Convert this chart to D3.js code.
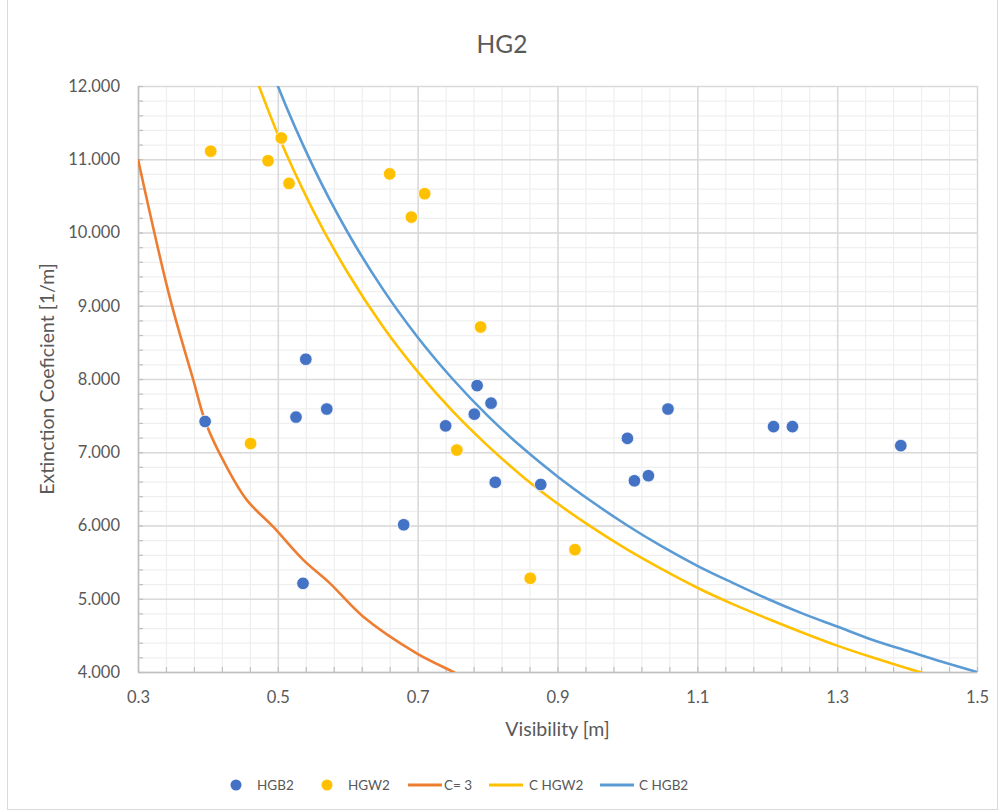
<!DOCTYPE html>
<html>
<head>
<meta charset="utf-8">
<script src="https://cdn.jsdelivr.net/npm/d3@7"></script>
<style>
  html, body { margin: 0; padding: 0; background: #ffffff; }
  svg text { font-family: Lato, "Open Sans", sans-serif; fill: #595959; }
</style>
</head>
<body>
<svg id="chart" width="1003" height="812"></svg>
<script>
// ---------- DATA ----------
const title = "HG2";
const xTitle = "Visibility [m]";
const yTitle = "Extinction Coeficient [1/m]";

const xTickValues = [0.3, 0.5, 0.7, 0.9, 1.1, 1.3, 1.5];
const yTickValues = [4, 5, 6, 7, 8, 9, 10, 11, 12];

// HGB2 observations
const hgb2X = [0.396, 0.540, 0.526, 0.570, 0.536, 0.680, 0.740, 0.785, 0.805, 0.781, 0.811, 0.876, 1.058, 1.000, 1.010, 1.030, 1.209, 1.236, 1.391];
const hgb2Y = [7.42, 8.27, 7.48, 7.59, 5.21, 6.01, 7.36, 7.91, 7.67, 7.52, 6.59, 6.56, 7.59, 7.19, 6.61, 6.68, 7.35, 7.35, 7.09];

// HGW2 observations
const hgw2X = [0.404, 0.505, 0.486, 0.516, 0.660, 0.710, 0.691, 0.790, 0.461, 0.756, 0.861, 0.925];
const hgw2Y = [11.11, 11.29, 10.98, 10.67, 10.80, 10.53, 10.21, 8.71, 7.12, 7.03, 5.28, 5.67];

// C= 3 curve
const c3X = [0.300, 0.3458, 0.3787, 0.3970, 0.4268, 0.4555, 0.4936, 0.5364, 0.5746, 0.6222, 0.6986, 0.751, 0.760];
const c3Y = [11.00, 9.10, 8.00, 7.40, 6.80, 6.35, 5.98, 5.53, 5.21, 4.755, 4.255, 4.00, 3.95];

// C HGW2 curve
const cHgwX = [0.46, 0.50, 0.55, 0.60, 0.65, 0.70, 0.75, 0.80, 0.85, 0.90, 0.95, 1.00, 1.05, 1.10, 1.15, 1.20, 1.25, 1.30, 1.35, 1.40, 1.45];
const cHgwY = [12.33, 11.34, 10.31, 9.45, 8.72, 8.10, 7.56, 7.09, 6.67, 6.30, 5.97, 5.67, 5.40, 5.15, 4.93, 4.73, 4.54, 4.36, 4.20, 4.05, 3.91];

// C HGB2 curve
const cHgbX = [0.48, 0.50, 0.55, 0.60, 0.65, 0.70, 0.75, 0.80, 0.85, 0.90, 0.95, 1.00, 1.05, 1.10, 1.15, 1.20, 1.25, 1.30, 1.35, 1.40, 1.45, 1.50];
const cHgbY = [12.50, 12.00, 10.91, 10.00, 9.23, 8.57, 8.00, 7.50, 7.06, 6.67, 6.32, 6.00, 5.71, 5.45, 5.22, 5.00, 4.80, 4.62, 4.44, 4.29, 4.14, 4.00];

const legendLabels = ["HGB2", "HGW2", "C= 3", "C HGW2", "C HGB2"];

// ---------- CHART ----------
const colors = { hgb2: "#4472C4", hgw2: "#FFC000", c3: "#ED7D31", cHgw: "#FFC000", cHgb: "#5B9BD5" };
const svg = d3.select("#chart");
const W = 1003, H = 812;
const plot = { left: 138, right: 977, top: 86, bottom: 672 };

svg.append("rect").attr("x", 0).attr("y", 0).attr("width", W).attr("height", H).attr("fill", "#fff");
// chart frame
svg.append("rect").attr("x", 7.5).attr("y", -2).attr("width", 990).attr("height", 811.5)
  .attr("fill", "none").attr("stroke", "#d9d9d9").attr("stroke-width", 1);

const x = d3.scaleLinear().domain([0.3, 1.5]).range([plot.left, plot.right]);
const y = d3.scaleLinear().domain([4, 12]).range([plot.bottom, plot.top]);

const xMinor = d3.range(0, 31).map(i => 0.3 + i * 0.04);
const yMinor = d3.range(0, 41).map(i => 4 + i * 0.2);

// minor gridlines
svg.append("g").attr("transform", `translate(0,${plot.bottom})`)
  .call(d3.axisBottom(x).tickValues(xMinor).tickSize(-(plot.bottom - plot.top)).tickFormat(""))
  .call(g => g.select(".domain").remove())
  .call(g => g.selectAll("line").attr("stroke", "#efefef").attr("stroke-width", 1.2));
svg.append("g").attr("transform", `translate(${plot.left},0)`)
  .call(d3.axisLeft(y).tickValues(yMinor).tickSize(-(plot.right - plot.left)).tickFormat(""))
  .call(g => g.select(".domain").remove())
  .call(g => g.selectAll("line").attr("stroke", "#efefef").attr("stroke-width", 1.2));

// major gridlines
svg.append("g").attr("transform", `translate(0,${plot.bottom})`)
  .call(d3.axisBottom(x).tickValues(xTickValues).tickSize(-(plot.bottom - plot.top)).tickFormat(""))
  .call(g => g.select(".domain").remove())
  .call(g => g.selectAll("line").attr("stroke", "#d9d9d9").attr("stroke-width", 1.5));
svg.append("g").attr("transform", `translate(${plot.left},0)`)
  .call(d3.axisLeft(y).tickValues(yTickValues).tickSize(-(plot.right - plot.left)).tickFormat(""))
  .call(g => g.select(".domain").remove())
  .call(g => g.selectAll("line").attr("stroke", "#d9d9d9").attr("stroke-width", 1.5));

// minor tick marks (inside)
svg.append("g").attr("transform", `translate(0,${plot.bottom})`)
  .call(d3.axisBottom(x).tickValues(xMinor).tickSize(-5).tickFormat(""))
  .call(g => g.select(".domain").remove())
  .call(g => g.selectAll("line").attr("stroke", "#bfbfbf").attr("stroke-width", 1.2));
svg.append("g").attr("transform", `translate(${plot.left},0)`)
  .call(d3.axisLeft(y).tickValues(yMinor).tickSize(-5).tickFormat(""))
  .call(g => g.select(".domain").remove())
  .call(g => g.selectAll("line").attr("stroke", "#bfbfbf").attr("stroke-width", 1.2));

// axes with labels
svg.append("g").attr("transform", `translate(0,${plot.bottom})`)
  .call(d3.axisBottom(x).tickValues(xTickValues).tickSize(0).tickPadding(18).tickFormat(d3.format(".1f")))
  .call(g => g.select(".domain").attr("stroke", "#bfbfbf").attr("stroke-width", 1.5))
  .call(g => g.selectAll("text").attr("font-size", "16.5px").attr("fill", "#595959").attr("dy", "0.35em").attr("y", 25));
svg.append("g").attr("transform", `translate(${plot.left},0)`)
  .call(d3.axisLeft(y).tickValues(yTickValues).tickSize(0).tickPadding(18).tickFormat(d3.format(".3f")))
  .call(g => g.select(".domain").attr("stroke", "#bfbfbf").attr("stroke-width", 1.5))
  .call(g => g.selectAll("text").attr("font-size", "16.5px").attr("fill", "#595959"));

// clip
svg.append("clipPath").attr("id", "clip").append("rect")
  .attr("x", plot.left).attr("y", plot.top).attr("width", plot.right - plot.left).attr("height", plot.bottom - plot.top);

const curves = [
  { xs: c3X, ys: c3Y, color: colors.c3, curve: d3.curveCatmullRom.alpha(0.5) },
  { xs: cHgwX, ys: cHgwY, color: colors.cHgw, curve: d3.curveMonotoneX },
  { xs: cHgbX, ys: cHgbY, color: colors.cHgb, curve: d3.curveMonotoneX }
];
const gLines = svg.append("g").attr("clip-path", "url(#clip)");
curves.forEach(c => {
  const line = d3.line().x(d => x(d[0])).y(d => y(d[1])).curve(c.curve);
  gLines.append("path").datum(c.xs.map((v, i) => [v, c.ys[i]]))
    .attr("d", line).attr("fill", "none").attr("stroke", c.color).attr("stroke-width", 2.6);
});

// points
const gPts = svg.append("g");
gPts.selectAll("circle.hgb2").data(hgb2X.map((v, i) => [v, hgb2Y[i]])).join("circle")
  .attr("class", "hgb2").attr("cx", d => x(d[0])).attr("cy", d => y(d[1])).attr("r", 6.3)
  .attr("fill", colors.hgb2).attr("stroke", "#fff").attr("stroke-width", 0.8);
gPts.selectAll("circle.hgw2").data(hgw2X.map((v, i) => [v, hgw2Y[i]])).join("circle")
  .attr("class", "hgw2").attr("cx", d => x(d[0])).attr("cy", d => y(d[1])).attr("r", 6.3)
  .attr("fill", colors.hgw2).attr("stroke", "#fff").attr("stroke-width", 0.8);

// titles
svg.append("text").attr("x", 502).attr("y", 44).attr("text-anchor", "middle").attr("dy", "0.35em")
  .attr("font-size", "24.5px").text(title);
svg.append("text").attr("x", (plot.left + plot.right) / 2).attr("y", 729).attr("text-anchor", "middle").attr("dy", "0.35em")
  .attr("font-size", "19.5px").text(xTitle);
svg.append("text").attr("transform", `translate(47,${(plot.top + plot.bottom) / 2}) rotate(-90)`)
  .attr("text-anchor", "middle").attr("dy", "0.35em").attr("font-size", "19.5px").text(yTitle);

// legend
const legendY = 785;
const legendItems = [
  { type: "dot", color: colors.hgb2, sx: 236, tx: 257 },
  { type: "dot", color: colors.hgw2, sx: 327, tx: 348 },
  { type: "line", color: colors.c3, sx: 408, tx: 444 },
  { type: "line", color: colors.cHgw, sx: 489, tx: 529 },
  { type: "line", color: colors.cHgb, sx: 600, tx: 639 }
];
const gLeg = svg.append("g");
legendItems.forEach((it, i) => {
  if (it.type === "dot") {
    gLeg.append("circle").attr("cx", it.sx).attr("cy", legendY).attr("r", 5.5).attr("fill", it.color);
  } else {
    gLeg.append("line").attr("x1", it.sx).attr("x2", it.sx + 34).attr("y1", legendY).attr("y2", legendY)
      .attr("stroke", it.color).attr("stroke-width", 3);
  }
  gLeg.append("text").attr("x", it.tx).attr("y", legendY).attr("dy", "0.35em").attr("font-size", "13.5px").text(legendLabels[i]);
});
</script>
</body>
</html>
